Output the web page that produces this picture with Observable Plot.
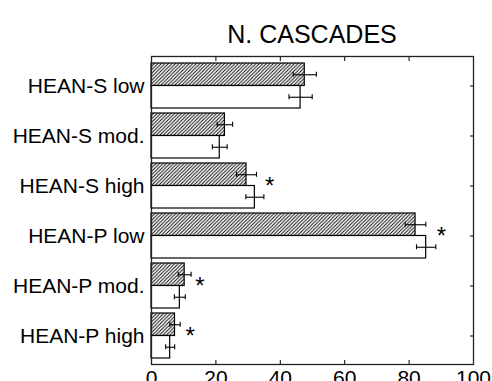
<!DOCTYPE html>
<html><head><meta charset="utf-8">
<script src="https://cdn.jsdelivr.net/npm/d3@7"></script>
<script src="https://cdn.jsdelivr.net/npm/@observablehq/plot@0.6"></script>
<style>
html,body{margin:0;padding:0;overflow:hidden;background:#fff;width:492px;height:381px}
#title{font-family:"Liberation Sans",Arial,sans-serif;font-size:25px;line-height:25px;height:50px;box-sizing:border-box;padding-top:22px;margin-left:151px;width:322px;text-align:center;color:#000}
#chart svg{display:block;font-family:"Liberation Sans",Arial,sans-serif}
</style>
</head><body>
<div id="title">N. CASCADES</div>
<div id="chart"></div>
<script>
const categories = ["HEAN-S low","HEAN-S mod.","HEAN-S high","HEAN-P low","HEAN-P mod.","HEAN-P high"];
const hatchedValues = [47.6, 22.8, 29.5, 82.0, 10.3, 7.3];
const hatchedErrors = [3.6, 2.4, 3.1, 3.2, 2.0, 1.6];
const openValues = [46.3, 21.2, 32.1, 85.3, 8.8, 5.8];
const openErrors = [3.6, 2.3, 2.8, 3.0, 1.7, 1.4];
const starPositions = [null, null, 36.7, 90, 15, 12];
const xTicks = [0, 20, 40, 60, 80, 100];

const hatched = categories.map((c, i) => ({cat: c, v: hatchedValues[i], e: hatchedErrors[i]}));
const open = categories.map((c, i) => ({cat: c, v: openValues[i], e: openErrors[i]}));
const stars = categories.map((c, i) => ({cat: c, x: starPositions[i]})).filter(d => d.x != null);

const W = 492, H = 350, mt = 6, mb = 36, ml = 151, mr = 19;
const pi = 0.107, po = 0.11;
const plotH = H - mt - mb;
const step = plotH / (categories.length - pi + 2 * po);
const bw = step * (1 - pi);
const half = bw / 2, q = bw / 4, cap = 2.5;

const chart = Plot.plot({
  width: W, height: H,
  marginTop: mt, marginBottom: mb, marginLeft: ml, marginRight: mr,
  style: {fontFamily: '"Liberation Sans", Arial, sans-serif', color: "#000", background: "#fff"},
  x: {domain: [0, 100]},
  y: {domain: categories, paddingInner: pi, paddingOuter: po},
  marks: [
    Plot.barX(hatched, {x: "v", y: "cat", fill: "url(#hatch)", stroke: "#000", strokeWidth: 1.2, insetBottom: half}),
    Plot.barX(open, {x: "v", y: "cat", fill: "#fff", stroke: "#000", strokeWidth: 1.2, insetTop: half}),
    Plot.link(hatched, {x1: d => d.v - d.e, x2: d => d.v + d.e, y1: "cat", y2: "cat", dy: -q, stroke: "#000", strokeWidth: 1.1}),
    Plot.link(open, {x1: d => d.v - d.e, x2: d => d.v + d.e, y1: "cat", y2: "cat", dy: q, stroke: "#000", strokeWidth: 1.1}),
    Plot.tickX(hatched, {x: d => d.v - d.e, y: "cat", insetTop: q - cap, insetBottom: bw - q - cap, stroke: "#000", strokeWidth: 1.1}),
    Plot.tickX(hatched, {x: d => d.v + d.e, y: "cat", insetTop: q - cap, insetBottom: bw - q - cap, stroke: "#000", strokeWidth: 1.1}),
    Plot.tickX(open, {x: d => d.v - d.e, y: "cat", insetTop: bw - q - cap, insetBottom: q - cap, stroke: "#000", strokeWidth: 1.1}),
    Plot.tickX(open, {x: d => d.v + d.e, y: "cat", insetTop: bw - q - cap, insetBottom: q - cap, stroke: "#000", strokeWidth: 1.1}),
    Plot.text(stars, {x: "x", y: "cat", text: () => "*", fontSize: 24, fill: "#000"}),
    Plot.axisY({anchor: "left", tickSize: 0, tickPadding: 7, fontSize: 21, label: null}),
    Plot.axisY({anchor: "right", tickSize: -4, tickFormat: () => "", label: null}),
    Plot.axisX({anchor: "bottom", ticks: xTicks, tickSize: -4, tickPadding: 10, fontSize: 21, label: null}),
    Plot.axisX({anchor: "top", ticks: xTicks, tickSize: -4, tickFormat: () => "", label: null}),
    Plot.frame({stroke: "#222", strokeWidth: 1.3})
  ]
});

const defs = d3.select(chart).insert("defs", ":first-child");
const pat = defs.append("pattern").attr("id", "hatch").attr("patternUnits", "userSpaceOnUse").attr("width", 3.5).attr("height", 3.5);
pat.append("rect").attr("width", 3.5).attr("height", 3.5).attr("fill", "#fff");
pat.append("path").attr("d", "M-1,1 l2,-2 M0,3.5 l3.5,-3.5 M2.5,4.5 l2,-2").attr("stroke", "#000").attr("stroke-width", 0.9);

document.getElementById("chart").appendChild(chart);
</script>
</body></html>
